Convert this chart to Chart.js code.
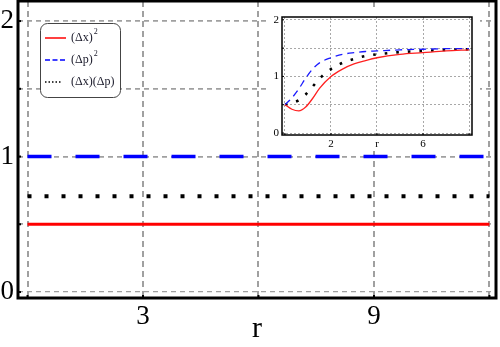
<!DOCTYPE html>
<html>
<head>
<meta charset="utf-8">
<script src="https://cdn.jsdelivr.net/npm/chart.js@4"></script>
<style>
  body { margin: 0; background: #fff; }
  #wrap { position: relative; width: 500px; height: 347px; }
  #main { position: absolute; left: 0; top: 0; }
  #inset { position: absolute; left: 268px; top: 10px; background: #fff; }
</style>
</head>
<body>
<div id="wrap">
  <canvas id="main" width="500" height="347"></canvas>
  <canvas id="inset" width="212" height="140"></canvas>
</div>
<script>
// main panel: constant values over r
const mainR = [0, 3, 6, 9, 12];
const mainDx2 = [0.5, 0.5, 0.5, 0.5, 0.5];
const mainDp2 = [1, 1, 1, 1, 1];
const mainDxDp = [0.707, 0.707, 0.707, 0.707, 0.707];
const mainXTicks = [0, 3, 6, 9, 12];
const mainXTickLabels = ['', '3', '', '9', ''];
const mainYTicks = [0, 0.5, 1, 1.5, 2];
const mainYTickLabels = ['0', '', '1', '', '2'];

// inset panel: values
const insetR = [0, 0.3, 0.6, 0.9, 1.2, 1.5, 2, 2.5, 3, 3.5, 4, 5, 6, 7, 8];
const insetDx2 = [0.5, 0.42, 0.39, 0.46, 0.61, 0.79, 1.0, 1.13, 1.22, 1.28, 1.33, 1.39, 1.42, 1.45, 1.47];
const insetDp2 = [0.5, 0.62, 0.78, 0.97, 1.13, 1.24, 1.33, 1.39, 1.42, 1.44, 1.45, 1.47, 1.48, 1.49, 1.49];
const insetDxDp = [0.5, 0.53, 0.58, 0.68, 0.82, 0.96, 1.13, 1.24, 1.31, 1.36, 1.39, 1.43, 1.45, 1.47, 1.48];
const insetXTicks = [0, 2, 4, 6, 8];
const insetXTickLabels = ['', '2', 'r', '6', ''];
const insetYTicks = [0, 0.5, 1, 1.5, 2];
const insetYTickLabels = ['0', '', '1', '', '2'];

const legendBase = ['(Δx)', '(Δp)', '(Δx)(Δp)'];
const legendSup = ['2', '2', ''];

const serif = "'Liberation Serif', 'DejaVu Serif', serif";

function pts(xs, ys) {
  return xs.map((x, i) => ({ x: x, y: ys[i] }));
}

// fixed axis sizes, no extra padding from labels
function fixX(h) {
  return s => { s.height = h; s.paddingLeft = 0; s.paddingRight = 0; };
}
function fixY(w) {
  return s => { s.width = w; s.paddingTop = 0; s.paddingBottom = 0; };
}

const framePlugin = {
  id: 'frame',
  afterDraw(chart, args, opts) {
    const { ctx, chartArea: a, scales: { x, y } } = chart;
    ctx.save();
    ctx.strokeStyle = '#000';
    ctx.lineWidth = opts.tickWidth;
    x.ticks.forEach(t => {
      const px = x.getPixelForValue(t.value);
      ctx.beginPath(); ctx.moveTo(px, a.bottom); ctx.lineTo(px, a.bottom - opts.tickLen); ctx.stroke();
    });
    y.ticks.forEach(t => {
      const py = y.getPixelForValue(t.value);
      ctx.beginPath(); ctx.moveTo(a.left, py); ctx.lineTo(a.left + opts.tickLen, py); ctx.stroke();
    });
    ctx.lineWidth = opts.width;
    ctx.strokeRect(a.left, a.top, a.right - a.left, a.bottom - a.top);
    ctx.restore();
  }
};

const legendPlugin = {
  id: 'boxLegend',
  afterDraw(chart) {
    const ctx = chart.ctx;
    const dashes = [[], [5, 2.5], [1.5, 2]];
    const widths = [1.5, 1.5, 1.5];
    ctx.save();
    ctx.fillStyle = '#fff';
    ctx.strokeStyle = '#444';
    ctx.lineWidth = 1;
    ctx.beginPath();
    ctx.roundRect(40.5, 23.5, 80, 74, 7);
    ctx.fill();
    ctx.stroke();
    chart.data.datasets.forEach((ds, i) => {
      const yy = 38 + i * 22;
      ctx.strokeStyle = ds.borderColor;
      ctx.lineWidth = widths[i];
      ctx.setLineDash(dashes[i]);
      ctx.beginPath(); ctx.moveTo(45, yy); ctx.lineTo(i === 2 ? 61 : 66, yy); ctx.stroke();
      ctx.setLineDash([]);
      ctx.fillStyle = '#1a1a2a';
      ctx.textBaseline = 'middle';
      ctx.font = '12px ' + serif;
      ctx.fillText(legendBase[i], 71, yy);
      if (legendSup[i]) {
        const w = ctx.measureText(legendBase[i]).width;
        ctx.font = '8px ' + serif;
        ctx.fillText(legendSup[i], 71 + w + 1, yy - 6);
      }
    });
    ctx.restore();
  }
};

new Chart(document.getElementById('main'), {
  type: 'line',
  data: {
    datasets: [
      { label: '(Δx)²', data: pts(mainR, mainDx2), borderColor: '#ff0000', borderWidth: 3 },
      { label: '(Δp)²', data: pts(mainR, mainDp2), borderColor: '#0000ff', borderWidth: 3.5, borderDash: [24, 24] },
      { label: '(Δx)(Δp)', data: pts(mainR, mainDxDp), borderColor: '#000000', borderWidth: 4, borderDash: [4, 13] }
    ]
  },
  options: {
    responsive: false,
    animation: false,
    devicePixelRatio: 1,
    elements: { point: { radius: 0 }, line: { tension: 0, borderCapStyle: 'butt' } },
    layout: { autoPadding: false, padding: { top: 1, right: 4, left: 0, bottom: 0 } },
    plugins: {
      legend: { display: false },
      tooltip: { enabled: false },
      frame: { width: 3, tickWidth: 2, tickLen: 3 }
    },
    scales: {
      x: {
        type: 'linear', min: -0.247, max: 12.17,
        afterBuildTicks: s => { s.ticks = mainXTicks.map(v => ({ value: v })); },
        afterFit: fixX(49),
        grid: { color: '#a0a0a0', lineWidth: 2, drawTicks: false },
        border: { display: false, dash: [6, 4] },
        ticks: {
          autoSkip: false, maxRotation: 0, padding: 3, color: '#000',
          font: { family: serif, size: 27 },
          callback: (v, i) => mainXTickLabels[i]
        },
        title: { display: true, text: 'r', color: '#000', font: { family: serif, size: 30 }, padding: { top: -14, bottom: 0 } }
      },
      y: {
        type: 'linear', min: -0.044, max: 2.148,
        afterBuildTicks: s => { s.ticks = mainYTicks.map(v => ({ value: v })); },
        afterFit: fixY(18),
        grid: { color: '#a0a0a0', lineWidth: (c) => (c.tick && c.tick.value === 0 ? 1.2 : 1.8), drawTicks: false },
        border: { display: false, dash: [5, 4] },
        ticks: {
          autoSkip: false, padding: 4, color: '#000',
          font: { family: serif, size: 27 },
          callback: (v, i) => mainYTickLabels[i]
        }
      }
    }
  },
  plugins: [framePlugin, legendPlugin]
});

new Chart(document.getElementById('inset'), {
  type: 'line',
  data: {
    datasets: [
      { label: '(Δx)²', data: pts(insetR, insetDx2), borderColor: '#ff2020', borderWidth: 1.3 },
      { label: '(Δp)²', data: pts(insetR, insetDp2), borderColor: '#1a1aff', borderWidth: 1.3, borderDash: [7, 5] },
      { label: '(Δx)(Δp)', data: pts(insetR, insetDxDp), borderColor: '#000000', borderWidth: 2.6, borderDash: [2.6, 9] }
    ]
  },
  options: {
    responsive: false,
    animation: false,
    devicePixelRatio: 1,
    elements: { point: { radius: 0 }, line: { cubicInterpolationMode: 'monotone', borderCapStyle: 'butt' } },
    layout: { autoPadding: false, padding: { top: 7, right: 8, left: 0, bottom: 0 } },
    plugins: {
      legend: { display: false },
      tooltip: { enabled: false },
      frame: { width: 1.5, tickWidth: 1, tickLen: 2 }
    },
    scales: {
      x: {
        type: 'linear', min: -0.13, max: 8.13,
        afterBuildTicks: s => { s.ticks = insetXTicks.map(v => ({ value: v })); },
        afterFit: fixX(15),
        grid: { color: '#a8a8a8', lineWidth: 1, drawTicks: false },
        border: { display: false, dash: [2, 2] },
        ticks: {
          autoSkip: false, maxRotation: 0, padding: 3, color: '#000',
          font: { family: serif, size: 11 },
          callback: (v, i) => insetXTickLabels[i]
        }
      },
      y: {
        type: 'linear', min: -0.035, max: 2.05,
        afterBuildTicks: s => { s.ticks = insetYTicks.map(v => ({ value: v })); },
        afterFit: fixY(14),
        grid: { color: '#a8a8a8', lineWidth: 1, drawTicks: false },
        border: { display: false, dash: [2, 2] },
        ticks: {
          autoSkip: false, padding: 3, color: '#000',
          font: { family: serif, size: 11 },
          callback: (v, i) => insetYTickLabels[i]
        }
      }
    }
  },
  plugins: [framePlugin]
});
</script>
</body>
</html>
